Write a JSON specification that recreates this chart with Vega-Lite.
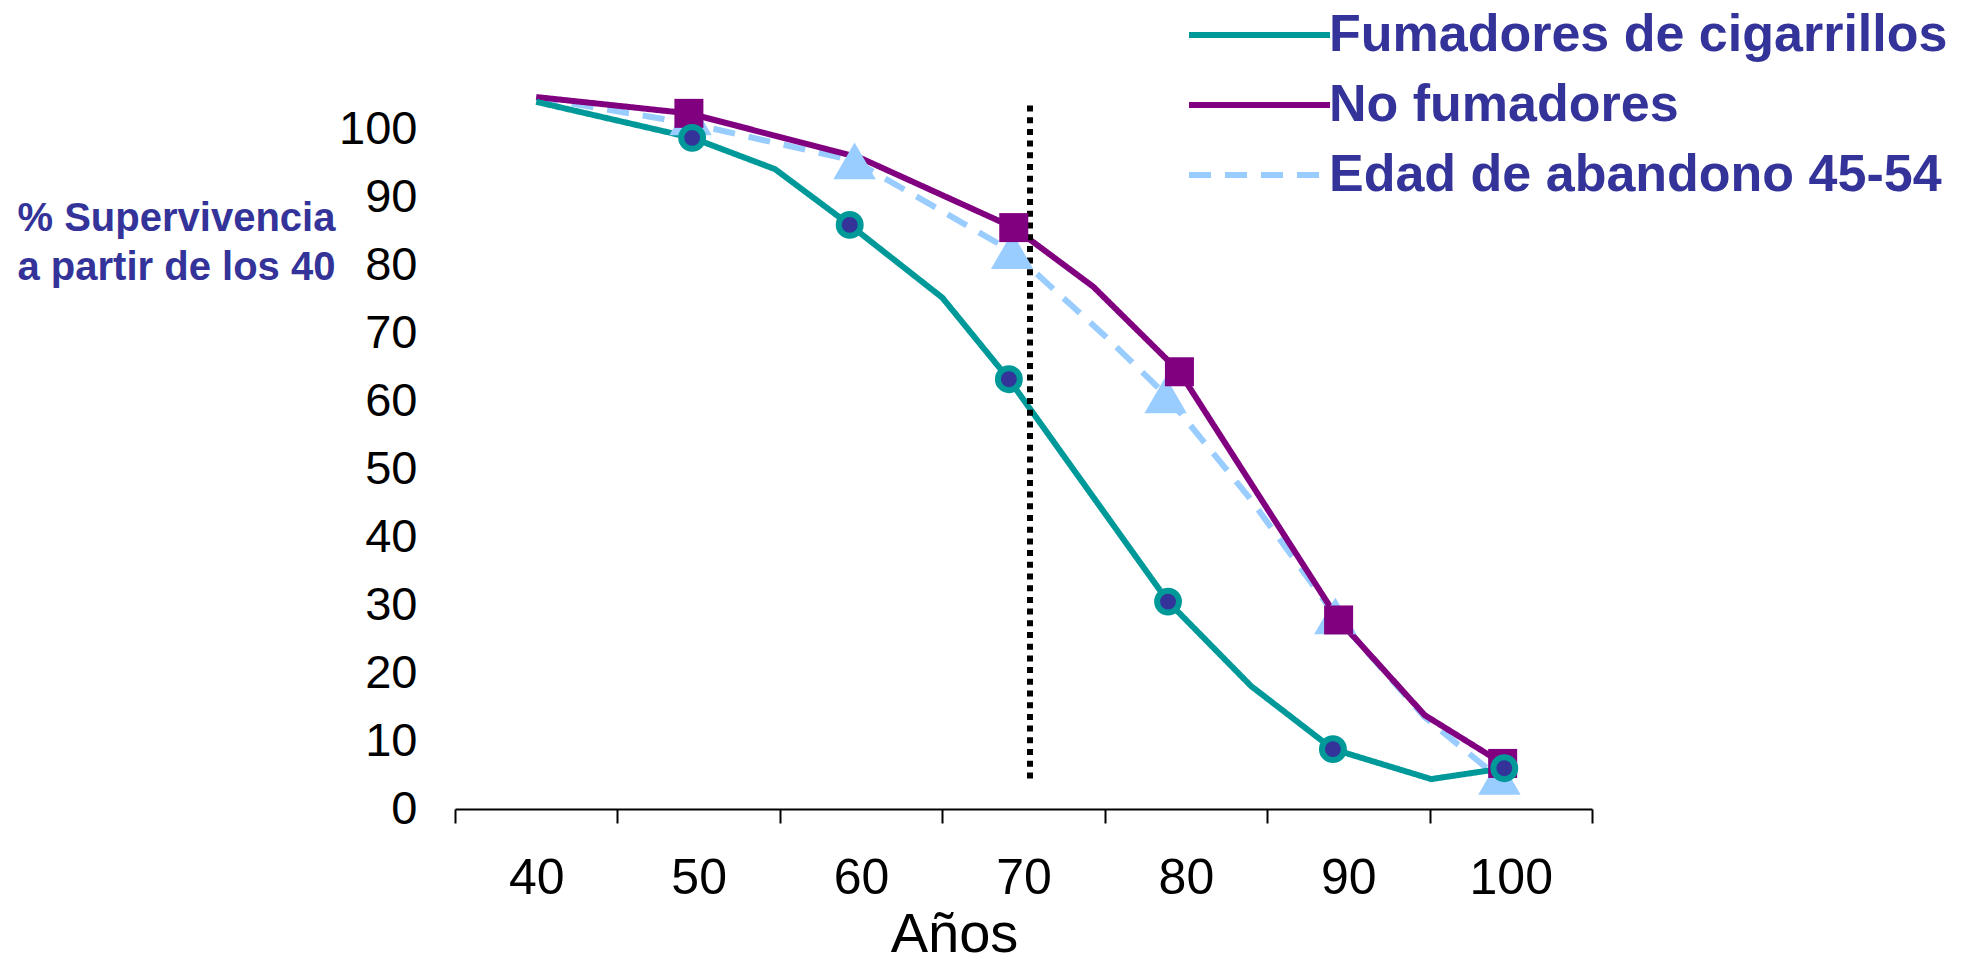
{
  "$schema": "https://vega.github.io/schema/vega-lite/v6.json",
  "width": 1137,
  "height": 748,
  "autosize": {"type": "none"},
  "padding": {"left": 455, "top": 61, "right": 389, "bottom": 159},
  "background": "white",
  "config": {"view": {"stroke": null}, "font": "Liberation Sans"},
  "datasets": {
    "curvas": [
      {"serie": "Edad de abandono 45-54", "edad": 40, "supervivencia": 104.6},
      {"serie": "Edad de abandono 45-54", "edad": 49.5, "supervivencia": 100.8},
      {"serie": "Edad de abandono 45-54", "edad": 59.6, "supervivencia": 95.3},
      {"serie": "Edad de abandono 45-54", "edad": 69.3, "supervivencia": 82.0},
      {"serie": "Edad de abandono 45-54", "edad": 75, "supervivencia": 69.6},
      {"serie": "Edad de abandono 45-54", "edad": 78.75, "supervivencia": 60.9},
      {"serie": "Edad de abandono 45-54", "edad": 84, "supervivencia": 45.5},
      {"serie": "Edad de abandono 45-54", "edad": 89.2, "supervivencia": 28.4},
      {"serie": "Edad de abandono 45-54", "edad": 94.7, "supervivencia": 13.5},
      {"serie": "Edad de abandono 45-54", "edad": 99.3, "supervivencia": 4.5},
      {"serie": "No fumadores", "edad": 40, "supervivencia": 104.7},
      {"serie": "No fumadores", "edad": 49.4, "supervivencia": 102.3},
      {"serie": "No fumadores", "edad": 59.9, "supervivencia": 95.8},
      {"serie": "No fumadores", "edad": 69.4, "supervivencia": 85.5},
      {"serie": "No fumadores", "edad": 74.3, "supervivencia": 76.8},
      {"serie": "No fumadores", "edad": 79.6, "supervivencia": 64.3},
      {"serie": "No fumadores", "edad": 89.4, "supervivencia": 27.8},
      {"serie": "No fumadores", "edad": 94.7, "supervivencia": 13.8},
      {"serie": "No fumadores", "edad": 99.5, "supervivencia": 6.7},
      {"serie": "Fumadores de cigarrillos", "edad": 40, "supervivencia": 104.0},
      {"serie": "Fumadores de cigarrillos", "edad": 49.6, "supervivencia": 98.7},
      {"serie": "Fumadores de cigarrillos", "edad": 54.7, "supervivencia": 94.1},
      {"serie": "Fumadores de cigarrillos", "edad": 59.3, "supervivencia": 85.9},
      {"serie": "Fumadores de cigarrillos", "edad": 65.0, "supervivencia": 75.2},
      {"serie": "Fumadores de cigarrillos", "edad": 69.1, "supervivencia": 63.2},
      {"serie": "Fumadores de cigarrillos", "edad": 78.9, "supervivencia": 30.5},
      {"serie": "Fumadores de cigarrillos", "edad": 84.0, "supervivencia": 18.1},
      {"serie": "Fumadores de cigarrillos", "edad": 89.05, "supervivencia": 8.8},
      {"serie": "Fumadores de cigarrillos", "edad": 95.1, "supervivencia": 4.4},
      {"serie": "Fumadores de cigarrillos", "edad": 99.6, "supervivencia": 6.0}
    ],
    "marcadores": [
      {"serie": "Edad de abandono 45-54", "edad": 49.5, "supervivencia": 101.8},
      {"serie": "Edad de abandono 45-54", "edad": 59.6, "supervivencia": 95.3},
      {"serie": "Edad de abandono 45-54", "edad": 69.3, "supervivencia": 82.1},
      {"serie": "Edad de abandono 45-54", "edad": 78.75, "supervivencia": 60.9},
      {"serie": "Edad de abandono 45-54", "edad": 89.2, "supervivencia": 28.4},
      {"serie": "Edad de abandono 45-54", "edad": 99.3, "supervivencia": 4.8},
      {"serie": "No fumadores", "edad": 49.4, "supervivencia": 102.3},
      {"serie": "No fumadores", "edad": 69.4, "supervivencia": 85.5},
      {"serie": "No fumadores", "edad": 79.6, "supervivencia": 64.3},
      {"serie": "No fumadores", "edad": 89.4, "supervivencia": 27.8},
      {"serie": "No fumadores", "edad": 99.5, "supervivencia": 6.7},
      {"serie": "Fumadores de cigarrillos", "edad": 49.6, "supervivencia": 98.7},
      {"serie": "Fumadores de cigarrillos", "edad": 59.3, "supervivencia": 85.9},
      {"serie": "Fumadores de cigarrillos", "edad": 69.1, "supervivencia": 63.2},
      {"serie": "Fumadores de cigarrillos", "edad": 78.9, "supervivencia": 30.5},
      {"serie": "Fumadores de cigarrillos", "edad": 89.05, "supervivencia": 8.8},
      {"serie": "Fumadores de cigarrillos", "edad": 99.6, "supervivencia": 6.0}
    ],
    "referencia": [
      {"edad": 70.4, "supervivencia": 4.5, "hasta": 104}
    ]
  },
  "encoding": {
    "x": {
      "field": "edad",
      "type": "quantitative",
      "scale": {"domain": [35, 105], "nice": false, "zero": false},
      "axis": {
        "title": "Años",
        "values": [35, 40, 45, 50, 55, 60, 65, 70, 75, 80, 85, 90, 95, 100, 105],
        "labelExpr": "datum.value % 10 === 0 ? datum.label : ''",
        "tickOpacity": {"condition": {"test": "datum.value % 10 === 0", "value": 0}, "value": 1},
        "tickSize": 14,
        "tickWidth": 2,
        "tickColor": "black",
        "domainColor": "black",
        "domainWidth": 2,
        "grid": false,
        "labelFont": "Liberation Sans",
        "labelFontSize": 50,
        "labelColor": "black",
        "labelPadding": 30,
        "labelFlush": false,
        "labelOverlap": false,
        "titleFont": "Liberation Sans",
        "titleFontSize": 56,
        "titleFontWeight": "normal",
        "titleColor": "black",
        "titleAlign": "center",
        "titleBaseline": "alphabetic",
        "titleX": 499,
        "titleY": 142
      }
    },
    "y": {
      "field": "supervivencia",
      "type": "quantitative",
      "scale": {"domain": [0, 110], "nice": false},
      "axis": {
        "title": ["% Supervivencia", "a partir de los 40"],
        "values": [0, 10, 20, 30, 40, 50, 60, 70, 80, 90, 100],
        "domain": false,
        "ticks": false,
        "tickSize": 0,
        "grid": false,
        "labelFont": "Liberation Sans",
        "labelFontSize": 47,
        "labelColor": "black",
        "labelPadding": 38,
        "titleFont": "Liberation Sans",
        "titleFontSize": 40,
        "titleFontWeight": "bold",
        "titleColor": "#333399",
        "titleAngle": 0,
        "titleAlign": "left",
        "titleBaseline": "alphabetic",
        "titleLineHeight": 49,
        "titleX": -438,
        "titleY": 169
      }
    }
  },
  "layer": [
    {
      "data": {"name": "curvas"},
      "mark": {"type": "line", "strokeWidth": 6, "clip": false},
      "encoding": {
        "color": {
          "field": "serie",
          "type": "nominal",
          "scale": {
            "domain": ["Fumadores de cigarrillos", "No fumadores", "Edad de abandono 45-54"],
            "range": ["#009999", "#800080", "#99CCFF"]
          },
          "legend": {
            "title": null,
            "orient": "none",
            "legendX": 731,
            "legendY": -52,
            "padding": 0,
            "symbolType": "stroke",
            "symbolSize": 19881,
            "symbolStrokeWidth": 6,
            "clipHeight": 52,
            "rowPadding": 18,
            "labelOffset": -4,
            "labelFont": "Liberation Sans",
            "labelFontSize": 52,
            "labelFontWeight": "bold",
            "labelColor": "#333399",
            "labelLimit": 1000
          }
        },
        "strokeDash": {
          "field": "serie",
          "type": "nominal",
          "scale": {
            "domain": ["Fumadores de cigarrillos", "No fumadores", "Edad de abandono 45-54"],
            "range": [[1, 0], [1, 0], [22, 14]]
          },
          "legend": {
            "title": null,
            "orient": "none",
            "legendX": 731,
            "legendY": -52,
            "padding": 0,
            "symbolType": "stroke",
            "symbolSize": 19881,
            "symbolStrokeWidth": 6,
            "clipHeight": 52,
            "rowPadding": 18,
            "labelOffset": -4,
            "labelFont": "Liberation Sans",
            "labelFontSize": 52,
            "labelFontWeight": "bold",
            "labelColor": "#333399",
            "labelLimit": 1000
          }
        }
      }
    },
    {
      "data": {"name": "referencia"},
      "mark": {"type": "rule", "color": "black", "strokeWidth": 6, "strokeDash": [6, 5.7]},
      "encoding": {
        "y2": {"field": "hasta"}
      }
    },
    {
      "data": {"name": "marcadores"},
      "transform": [{"filter": "datum.serie === 'Edad de abandono 45-54'"}],
      "mark": {"type": "point", "shape": "triangle-up", "filled": true, "color": "#99CCFF", "opacity": 1, "size": 1800},
      "encoding": {}
    },
    {
      "data": {"name": "marcadores"},
      "transform": [{"filter": "datum.serie === 'No fumadores'"}],
      "mark": {"type": "point", "shape": "square", "filled": true, "color": "#800080", "opacity": 1, "size": 841},
      "encoding": {}
    },
    {
      "data": {"name": "marcadores"},
      "transform": [{"filter": "datum.serie === 'Fumadores de cigarrillos'"}],
      "mark": {"type": "point", "shape": "circle", "filled": true, "fill": "#333399", "stroke": "#009999", "strokeWidth": 6, "opacity": 1, "size": 480},
      "encoding": {}
    }
  ]
}
